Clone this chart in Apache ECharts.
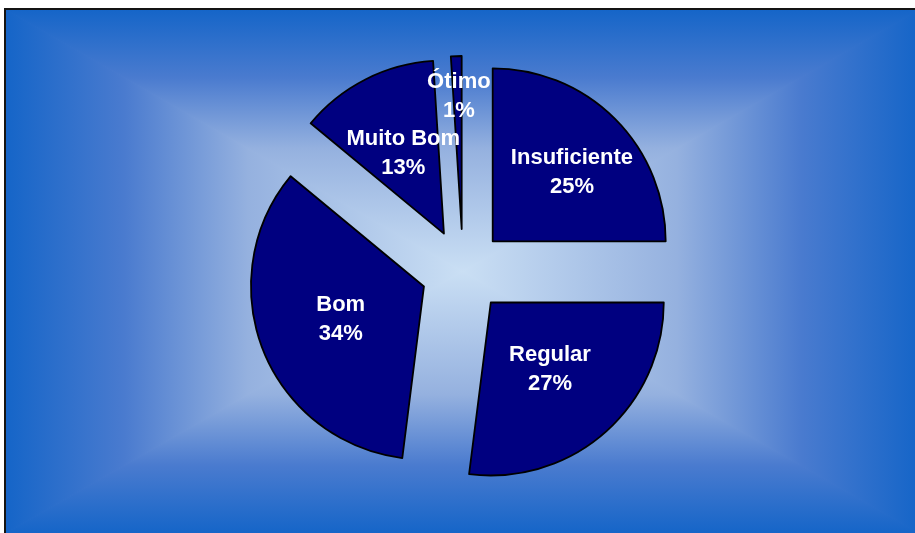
<!DOCTYPE html>
<html>
<head>
<meta charset="utf-8">
<script src="https://cdn.jsdelivr.net/npm/echarts@6/dist/echarts.min.js"></script>
<style>
  html, body { margin: 0; padding: 0; background: #ffffff; }
  #chart { width: 915px; height: 533px; }
</style>
</head>
<body>
<div id="chart"></div>
<script>
// ---- data ----
const categories = ['Insuficiente', 'Regular', 'Bom', 'Muito Bom', 'Ótimo'];
const values = [25, 27, 34, 13, 1];

// ---- styling / layout (not data) ----
const labelShift = { 'Insuficiente': [16, -6], 'Ótimo': [0, -43] };
const L = 6, T = 10, R = 919, B = 533;
const CX = (L + R) / 2, CY = (T + B) / 2;
const edgeToCenter = [
  { offset: 0, color: '#1565c8' },
  { offset: 0.26, color: '#4a7bcf' },
  { offset: 0.53, color: '#95b1df' },
  { offset: 1, color: '#cadff4' }
];
function grad(x, y, x2, y2) {
  return { type: 'linear', x: x, y: y, x2: x2, y2: y2, colorStops: edgeToCenter };
}
function tri(points, g) {
  return { type: 'polygon', z: -9, silent: true, shape: { points: points },
           style: { fill: g, stroke: g, lineWidth: 1.2 } };
}

const chart = echarts.init(document.getElementById('chart'), null, { renderer: 'canvas' });
chart.setOption({
  animation: false,
  backgroundColor: '#ffffff',
  graphic: [
    tri([[L, T], [R, T], [CX, CY]], grad(0, 0, 0, 1)),
    tri([[L, B], [R, B], [CX, CY]], grad(0, 1, 0, 0)),
    tri([[L, T], [L, B], [CX, CY]], grad(0, 0, 1, 0)),
    tri([[R, T], [R, B], [CX, CY]], grad(1, 0, 0, 0)),
    { type: 'rect', z: -8, silent: true, shape: { x: 5, y: 9, width: 930, height: 540 }, style: { fill: null, stroke: '#141414', lineWidth: 2 } }
  ],
  series: [{
    type: 'pie',
    center: [463, 271],
    radius: 173,
    startAngle: 90,
    clockwise: true,
    selectedMode: 'multiple',
    selectedOffset: 42,
    percentPrecision: 0,
    emphasis: { disabled: true },
    itemStyle: { color: '#000080', borderColor: '#000000', borderWidth: 1.8 },
    select: { itemStyle: { color: '#000080', borderColor: '#000000', borderWidth: 1.8 } },
    label: {
      show: true,
      position: 'inner',
      formatter: '{b}\n{d}%',
      color: '#ffffff',
      fontFamily: 'Liberation Sans, Arial, sans-serif',
      fontWeight: 'bold',
      fontSize: 22,
      lineHeight: 29,
      align: 'center'
    },
    labelLine: { show: false },
    labelLayout: function (params) {
      const s = labelShift[categories[params.dataIndex]];
      return s ? { dx: s[0], dy: s[1] } : {};
    },
    data: categories.map(function (c, i) { return { name: c, value: values[i], selected: true }; })
  }]
});
</script>
</body>
</html>
